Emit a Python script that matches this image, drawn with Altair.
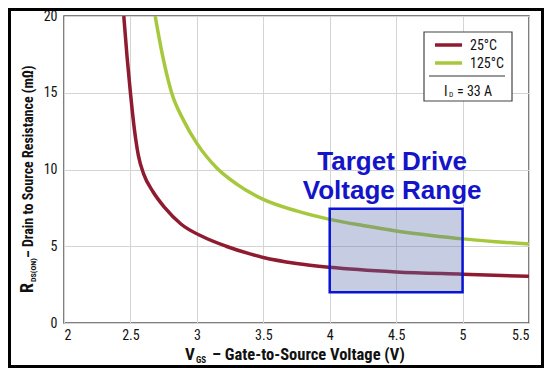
import altair as alt
import pandas as pd

# ---- data ----
v25 = [2.45, 2.475, 2.50, 2.53, 2.56, 2.60, 2.67, 2.76, 2.88, 3.05, 3.22, 3.40, 3.50, 3.75, 4.00, 4.50, 5.00, 5.50]
r25 = [20.0, 17.3, 15.0, 12.6, 10.9, 9.7, 8.55, 7.5, 6.45, 5.6, 5.0, 4.5, 4.27, 3.88, 3.63, 3.33, 3.18, 3.04]
v125 = [2.686, 2.74, 2.81, 2.90, 3.00, 3.15, 3.30, 3.50, 3.75, 4.00, 4.25, 4.50, 4.75, 5.00, 5.25, 5.50]
r125 = [20.0, 17.5, 15.0, 13.2, 11.7, 10.1, 9.05, 8.05, 7.3, 6.75, 6.35, 6.0, 5.72, 5.48, 5.3, 5.15]
series = ["25°C", "125°C"]
colors = ["#8E1B30", "#A6C83C"]
x_ticks = [2, 2.5, 3, 3.5, 4, 4.5, 5, 5.5]
y_ticks = [0, 5, 10, 15, 20]
box_x = [4.0, 5.0]
box_y = [2.0, 7.45]
note_lines = ["Target Drive", "Voltage Range"]
note_x = 4.47
note_y = [10.0, 8.1]

curves = pd.DataFrame({
    "v": v25 + v125,
    "r": r25 + r125,
    "s": [series[0]] * len(v25) + [series[1]] * len(v125),
})

W, H = 465, 307
NARROW = "Roboto Condensed, Liberation Sans Narrow, DejaVu Sans Condensed, sans-serif"

x_sc = alt.Scale(domain=[2, 5.5], nice=False, zero=False)
y_sc = alt.Scale(domain=[0, 20], nice=False, zero=False)

lines = alt.Chart(curves).mark_line(strokeWidth=3.5, interpolate="monotone", clip=True).encode(
    x=alt.X("v:Q", scale=x_sc, axis=alt.Axis(values=x_ticks, format="~g", title=None, grid=True,
                                             ticks=False, domain=False, labelPadding=5,
                                             labelFont=NARROW, labelFontSize=14, labelColor="#111")),
    y=alt.Y("r:Q", scale=y_sc, axis=alt.Axis(values=y_ticks, title=None, grid=True, ticks=False,
                                             domain=False, labelPadding=7,
                                             labelFont=NARROW, labelFontSize=14, labelColor="#111")),
    color=alt.Color("s:N", scale=alt.Scale(domain=series, range=colors), legend=None),
    detail="s:N",
)

box_df = pd.DataFrame({"x1": [box_x[0]], "x2": [box_x[1]], "y1": [box_y[0]], "y2": [box_y[1]]})
box = alt.Chart(box_df).mark_rect(fill="#5C6FAF", fillOpacity=0.35, stroke="#0A14D2",
                                  strokeWidth=2.5, strokeOpacity=1).encode(
    x=alt.X("x1:Q", scale=x_sc), x2="x2:Q", y=alt.Y("y1:Q", scale=y_sc), y2="y2:Q")

note_df = pd.DataFrame({"t": note_lines, "x": [note_x] * 2, "y": note_y})
note = alt.Chart(note_df).mark_text(font="Liberation Sans, Arial, sans-serif", fontWeight="bold",
                                    fontSize=26, color="#1414C8", align="center",
                                    baseline="alphabetic").encode(
    x=alt.X("x:Q", scale=x_sc), y=alt.Y("y:Q", scale=y_sc), text="t:N")


def deco():
    return alt.Chart(pd.DataFrame({"_": [0]}))


def label(txt, x, y, size, bold=False, angle=0, align="left", baseline="alphabetic", color="#111"):
    kw = dict(font=NARROW, fontSize=size, align=align, baseline=baseline, color=color, clip=False)
    if bold:
        kw["fontWeight"] = "bold"
    if angle:
        kw["angle"] = angle
    return deco().mark_text(**kw).encode(x=alt.value(x), y=alt.value(y), text=alt.value(txt))


# legend box
leg_box = deco().mark_rect(fill="white", stroke="#444", strokeWidth=1.2).encode(
    x=alt.value(360), x2=alt.value(448), y=alt.value(16), y2=alt.value(85))
leg_r = deco().mark_rule(color=colors[0], strokeWidth=3.5).encode(
    x=alt.value(371), x2=alt.value(398), y=alt.value(29))
leg_g = deco().mark_rule(color=colors[1], strokeWidth=3.5).encode(
    x=alt.value(371), x2=alt.value(398), y=alt.value(47))
leg_sep = deco().mark_rule(color="#333", strokeWidth=1).encode(
    x=alt.value(365), x2=alt.value(441), y=alt.value(60))
leg_t1 = label(series[0], 406, 34, 14)
leg_t2 = label(series[1], 406, 52, 14)
leg_i = label("I", 380, 80, 14)
leg_d = label("D", 385, 81, 7.5)
leg_eq = label("= 33 A", 393, 80, 14)

# axis titles
yt_r = label("R", -31, 277, 18, bold=True, angle=270)
yt_sub = label("DS(ON)", -28, 266, 8, bold=True, angle=270)
yt_main = label("– Drain  to Source Resistance (mΩ)", -31, 242, 14, bold=True, angle=270)
xt_v = label("V", 121, 344, 17, bold=True)
xt_sub = label("GS", 132, 347, 9, bold=True)
xt_main = label("– Gate-to-Source Voltage (V)", 148, 344, 16.5, bold=True)

# outer frame around the whole figure
frame = deco().mark_rect(fill="white", fillOpacity=0, stroke="black", strokeWidth=3, clip=False).encode(
    x=alt.value(-54.5), x2=alt.value(478.5), y=alt.value(-6.5), y2=alt.value(350.5))

chart = alt.layer(
    lines, box, note, leg_box, leg_r, leg_g, leg_sep, leg_t1, leg_t2, leg_i, leg_d, leg_eq,
    yt_r, yt_sub, yt_main, xt_v, xt_sub, xt_main, frame,
).properties(
    width=W, height=H,
    autosize=alt.AutoSizeParams(type="none"),
    padding={"left": 56, "top": 8, "right": 15, "bottom": 45},
    background="white",
).configure_view(
    stroke="#555", strokeWidth=1.5,
).configure_axis(
    gridColor="#D4D4D4", gridWidth=1,
)

chart.save("out.html", embed_options={"renderer": "svg", "actions": False})
